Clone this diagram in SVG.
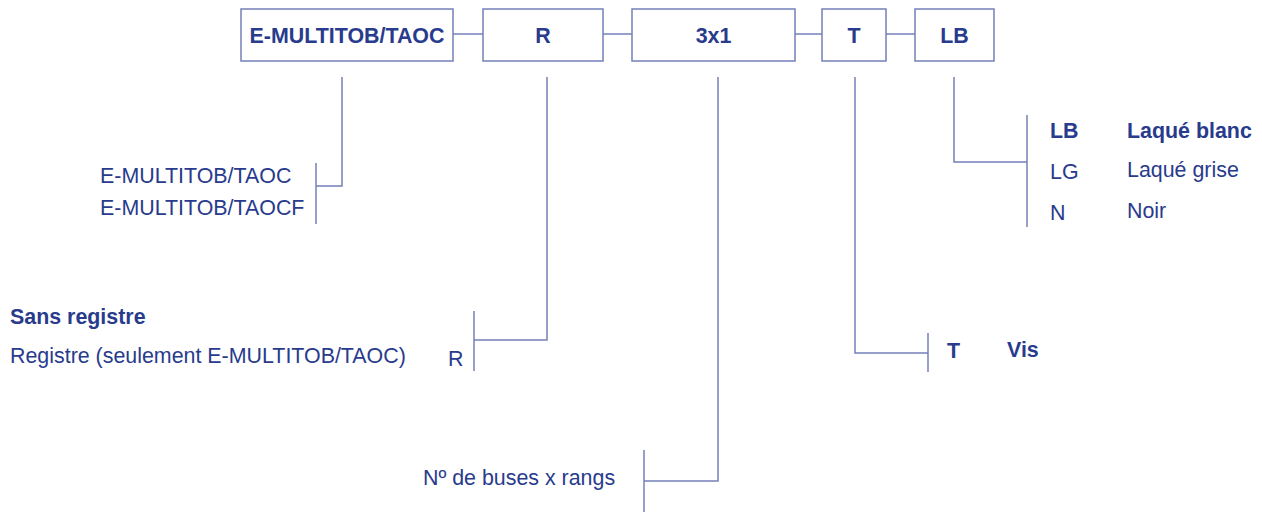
<svg xmlns="http://www.w3.org/2000/svg" width="1262" height="512" viewBox="0 0 1262 512">
<style>
.box{fill:#ffffff;stroke:#7480b8;stroke-width:1.5}
.ln{fill:none;stroke:#7480b8;stroke-width:1.5}
.t{font-family:"Liberation Sans",Arial,sans-serif;font-size:21.4px;fill:#283b8c}
.b{font-weight:bold}
.c{text-anchor:middle}
</style>
<rect width="1262" height="512" fill="#ffffff"/>
<g id="connectors">
<line class="ln" x1="453" y1="34" x2="483" y2="34"/>
<line class="ln" x1="603" y1="34" x2="632" y2="34"/>
<line class="ln" x1="795" y1="34" x2="822" y2="34"/>
<line class="ln" x1="886" y1="34" x2="915" y2="34"/>
<polyline class="ln" points="342,77 342,186 316,186"/>
<line class="ln" x1="316" y1="163" x2="316" y2="224"/>
<polyline class="ln" points="547,77 547,340 474,340"/>
<line class="ln" x1="474" y1="311" x2="474" y2="371"/>
<polyline class="ln" points="718,77 718,481 644,481"/>
<line class="ln" x1="644" y1="450" x2="644" y2="512"/>
<polyline class="ln" points="855,77 855,353 928,353"/>
<line class="ln" x1="928" y1="333" x2="928" y2="372"/>
<polyline class="ln" points="954,77 954,162 1027,162"/>
<line class="ln" x1="1027" y1="115" x2="1027" y2="227"/>
</g>
<g id="node-model">
<rect class="box" x="241" y="9" width="212" height="52"/>
<text class="t b c" x="347" y="43">E-MULTITOB/TAOC</text>
</g>
<g id="node-r">
<rect class="box" x="483" y="9" width="120" height="52"/>
<text class="t b c" x="543" y="43">R</text>
</g>
<g id="node-3x1">
<rect class="box" x="632" y="9" width="163" height="52"/>
<text class="t b c" x="713.5" y="43">3x1</text>
</g>
<g id="node-t">
<rect class="box" x="822" y="9" width="64" height="52"/>
<text class="t b c" x="854" y="43">T</text>
</g>
<g id="node-lb">
<rect class="box" x="915" y="9" width="79" height="52"/>
<text class="t b c" x="954.5" y="43">LB</text>
</g>
<g id="opt-model">
<text class="t" x="100" y="183">E-MULTITOB/TAOC</text>
<text class="t" x="100" y="215">E-MULTITOB/TAOCF</text>
</g>
<g id="opt-r">
<text class="t b" x="10" y="324">Sans registre</text>
<text class="t" x="10" y="363">Registre (seulement E-MULTITOB/TAOC)</text>
<text class="t" x="448" y="366">R</text>
</g>
<g id="opt-3x1">
<text class="t" x="423" y="485">Nº de buses x rangs</text>
</g>
<g id="opt-t">
<text class="t b" x="947" y="358">T</text>
<text class="t b" x="1007" y="357">Vis</text>
</g>
<g id="opt-lb">
<text class="t b" x="1050" y="138">LB</text>
<text class="t b" x="1127" y="138">Laqué blanc</text>
<text class="t" x="1050" y="179">LG</text>
<text class="t" x="1127" y="177">Laqué grise</text>
<text class="t" x="1050" y="220">N</text>
<text class="t" x="1127" y="218">Noir</text>
</g>
</svg>
